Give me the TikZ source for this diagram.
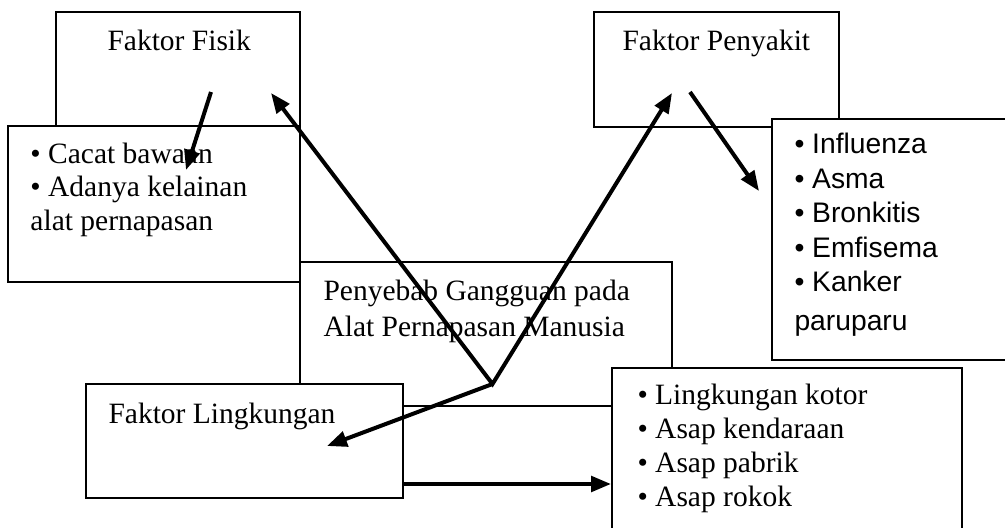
\documentclass[tikz,border=0pt]{standalone}
\usepackage{fontspec}
\setmainfont{Liberation Serif}
\newfontfamily\listsans{Liberation Sans}
\usetikzlibrary{fit,arrows.meta}

\begin{document}
\begin{tikzpicture}[x=0.4pt,y=-0.4pt,
    box/.style={draw,fill=white,line width=0.8pt,inner sep=0pt},
    txt/.style={anchor=base west,inner sep=0pt,align=left,font=\fontsize{11.8}{13.4}\selectfont},
    link/.style={line width=1.6pt,-{Triangle[length=8pt,width=6.2pt]}}]
  \clip (0,0) rectangle (1005,527);

  \node[box,fit={(56,12) (300,140)}] (fisik) {};
  \node[box,fit={(8,126) (300,282)}] (fisikList) {};
  \node[box,fit={(594,12) (839,127)}] (penyakit) {};
  \node[box,fit={(772,119) (1030,360)}] (penyakitList) {};
  \node[box,fit={(300,262) (672,406)}] (penyebab) {};
  \node[box,fit={(86,384) (403,498)}] (lingkungan) {};
  \node[box,fit={(612,368) (962,560)}] (lingkunganList) {};

  % multi-line texts sit on the baseline of their last line
  \node[txt] (fisikText) at (107,50) {Faktor Fisik};
  \node[txt] (fisikItems) at (30,230) {• Cacat bawaan\\• Adanya kelainan\\alat pernapasan};
  \node[txt] (penyakitText) at (622,50) {Faktor Penyakit};
  \node[txt,font=\listsans\fontsize{11.3}{13.8}\selectfont] (penyakitItems) at (794,330)
    {• Influenza\\• Asma\\• Bronkitis\\• Emfisema\\• Kanker\\[1.5pt]paruparu};
  \node[txt,font=\fontsize{11.8}{14.4}\selectfont] (penyebabText) at (323,336)
    {Penyebab Gangguan pada\\Alat Pernapasan Manusia};
  \node[txt] (lingkunganText) at (108,423) {Faktor Lingkungan};
  \node[txt,font=\fontsize{11.8}{13.5}\selectfont] (lingkunganItems) at (637,506)
    {• Lingkungan kotor\\• Asap kendaraan\\• Asap pabrik\\• Asap rokok};

  \coordinate (hub) at (492.5,384);
  \coordinate (fisikIn) at (271,93);
  \coordinate (penyakitIn) at (672,93);
  \coordinate (lingkunganIn) at (327,446);
  \coordinate (fisikOut) at (211,92);
  \coordinate (fisikListIn) at (186,170);
  \coordinate (penyakitOut) at (690,92);
  \coordinate (penyakitListIn) at (759,191);
  \coordinate (lane) at (0,484);

  \draw[link,{Triangle[length=8pt,width=6.2pt]}-{Triangle[length=8pt,width=6.2pt]}] (fisikIn) -- (hub) -- (penyakitIn);
  \draw[link] (hub) -- (lingkunganIn);
  \draw[link] (fisikOut) -- (fisikListIn);
  \draw[link] (penyakitOut) -- (penyakitListIn);
  \draw[link] (lingkungan.east |- lane) -- (lingkunganList.west |- lane);
\end{tikzpicture}
\end{document}
